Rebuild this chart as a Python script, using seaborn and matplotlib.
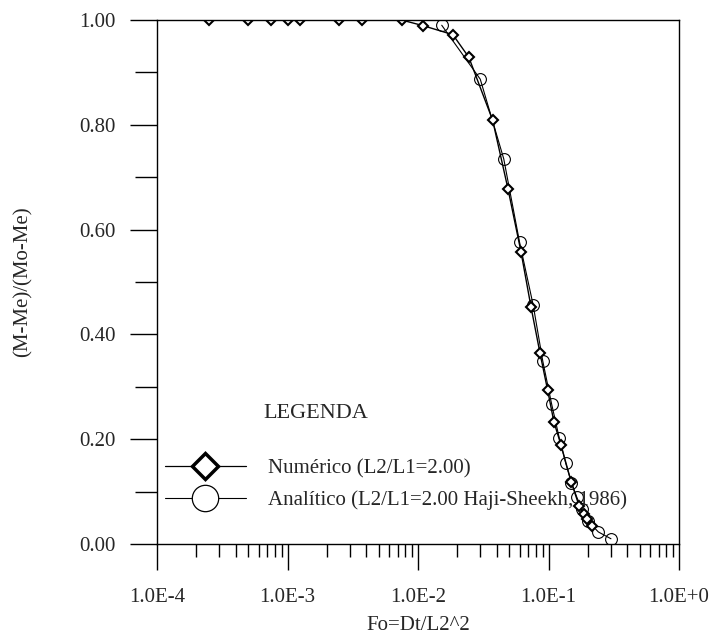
import matplotlib
matplotlib.use("Agg")
import matplotlib.pyplot as plt
import seaborn as sns
import pandas as pd
import numpy as np
from matplotlib.lines import Line2D
from matplotlib.ticker import FixedLocator, LogLocator, NullFormatter, FixedFormatter

# ---- data ----
num_x = [2.5e-4, 5e-4, 7.5e-4, 1e-3, 1.25e-3, 2.5e-3, 3.75e-3, 7.5e-3, 0.011,
         0.0185, 0.0245, 0.0373, 0.0490, 0.0615, 0.0735, 0.0861, 0.0986, 0.110,
         0.125, 0.149, 0.172, 0.186, 0.196, 0.214]
num_y = [1.0, 1.0, 1.0, 1.0, 1.0, 1.0, 1.0, 1.0, 0.989,
         0.972, 0.929, 0.809, 0.677, 0.558, 0.452, 0.364, 0.293, 0.233,
         0.188, 0.119, 0.072, 0.058, 0.048, 0.034]
ana_x = [0.0152, 0.030, 0.0454, 0.060, 0.0763, 0.0904, 0.1057, 0.121, 0.1356,
         0.150, 0.165, 0.180, 0.202, 0.241, 0.301]
ana_y = [0.990, 0.887, 0.735, 0.576, 0.456, 0.349, 0.267, 0.202, 0.154,
         0.117, 0.089, 0.066, 0.043, 0.023, 0.010]

num_label = "Numérico (L2/L1=2.00)"
ana_label = "Analítico (L2/L1=2.00 Haji-Sheekh, 1986)"
legend_title = "LEGENDA"
x_ticks = [1e-4, 1e-3, 1e-2, 1e-1, 1e0]
x_ticklabels = ["1.0E-4", "1.0E-3", "1.0E-2", "1.0E-1", "1.0E+0"]
y_ticks = [0.0, 0.2, 0.4, 0.6, 0.8, 1.0]
y_ticklabels = ["0.00", "0.20", "0.40", "0.60", "0.80", "1.00"]
x_label = "Fo=Dt/L2^2"
y_label = "(M-Me)/(Mo-Me)"

df_num = pd.DataFrame({"x": num_x, "y": num_y})
df_ana = pd.DataFrame({"x": ana_x, "y": ana_y})

sns.set_style("white")
plt.rcParams["font.family"] = ["Liberation Serif", "DejaVu Serif"]

fig = plt.figure(figsize=(7.16, 6.39), dpi=100)
ax = fig.add_axes([157/716, 1-544/639, (679-157)/716, (544-20)/639])

sns.lineplot(data=df_ana, x="x", y="y", ax=ax, color="black", lw=0.8,
             marker="o", markersize=8.5, markerfacecolor="none",
             markeredgecolor="black", markeredgewidth=0.8, sort=False)
sns.lineplot(data=df_num, x="x", y="y", ax=ax, color="black", lw=1.0,
             marker="D", markersize=5.5, markerfacecolor="white",
             markeredgecolor="black", markeredgewidth=1.5, sort=False)

ax.set_xscale("log")
ax.set_xlim(1e-4, 1e0)
ax.set_ylim(0, 1)

ax.xaxis.set_major_locator(FixedLocator(x_ticks))
ax.xaxis.set_major_formatter(FixedFormatter(x_ticklabels))
ax.xaxis.set_minor_locator(LogLocator(base=10, subs=np.arange(2, 10)))
ax.xaxis.set_minor_formatter(NullFormatter())
ax.yaxis.set_major_locator(FixedLocator(y_ticks))
ax.yaxis.set_major_formatter(FixedFormatter(y_ticklabels))
ax.yaxis.set_minor_locator(FixedLocator([0.1, 0.3, 0.5, 0.7, 0.9]))

ax.tick_params(axis="x", which="major", direction="out", length=19, width=1,
               color="black", labelsize=15, pad=13, bottom=True, top=False)
ax.tick_params(axis="x", which="minor", direction="out", length=9, width=1,
               color="black", bottom=True, top=False)
ax.tick_params(axis="y", which="major", direction="out", length=19.5, width=1,
               color="black", labelsize=15, pad=10, left=True, right=False)
ax.tick_params(axis="y", which="minor", direction="out", length=16, width=1,
               color="black", left=True, right=False)

for s in ax.spines.values():
    s.set_color("black")
    s.set_linewidth(1.0)

ax.set_xlabel(x_label, fontsize=15, labelpad=6)
ax.set_ylabel(y_label, fontsize=15, labelpad=34)

handles = [
    Line2D([], [], color="black", lw=0.9, marker="D", markersize=13,
           markerfacecolor="white", markeredgecolor="black", markeredgewidth=2.5),
    Line2D([], [], color="black", lw=0.8, marker="o", markersize=19,
           markerfacecolor="white", markeredgecolor="black", markeredgewidth=0.9),
]
leg = ax.legend(handles, [num_label, ana_label], loc="lower left",
                bbox_to_anchor=(0.0, 0.049), frameon=False, fontsize=15,
                handlelength=3.85, handletextpad=1.1, labelspacing=0.58,
                borderaxespad=0.0)
ax.text(0.203, 0.25, legend_title, transform=ax.transAxes, fontsize=16,
        ha="left", va="center")

fig.savefig("out.png", dpi=100, facecolor="white")
